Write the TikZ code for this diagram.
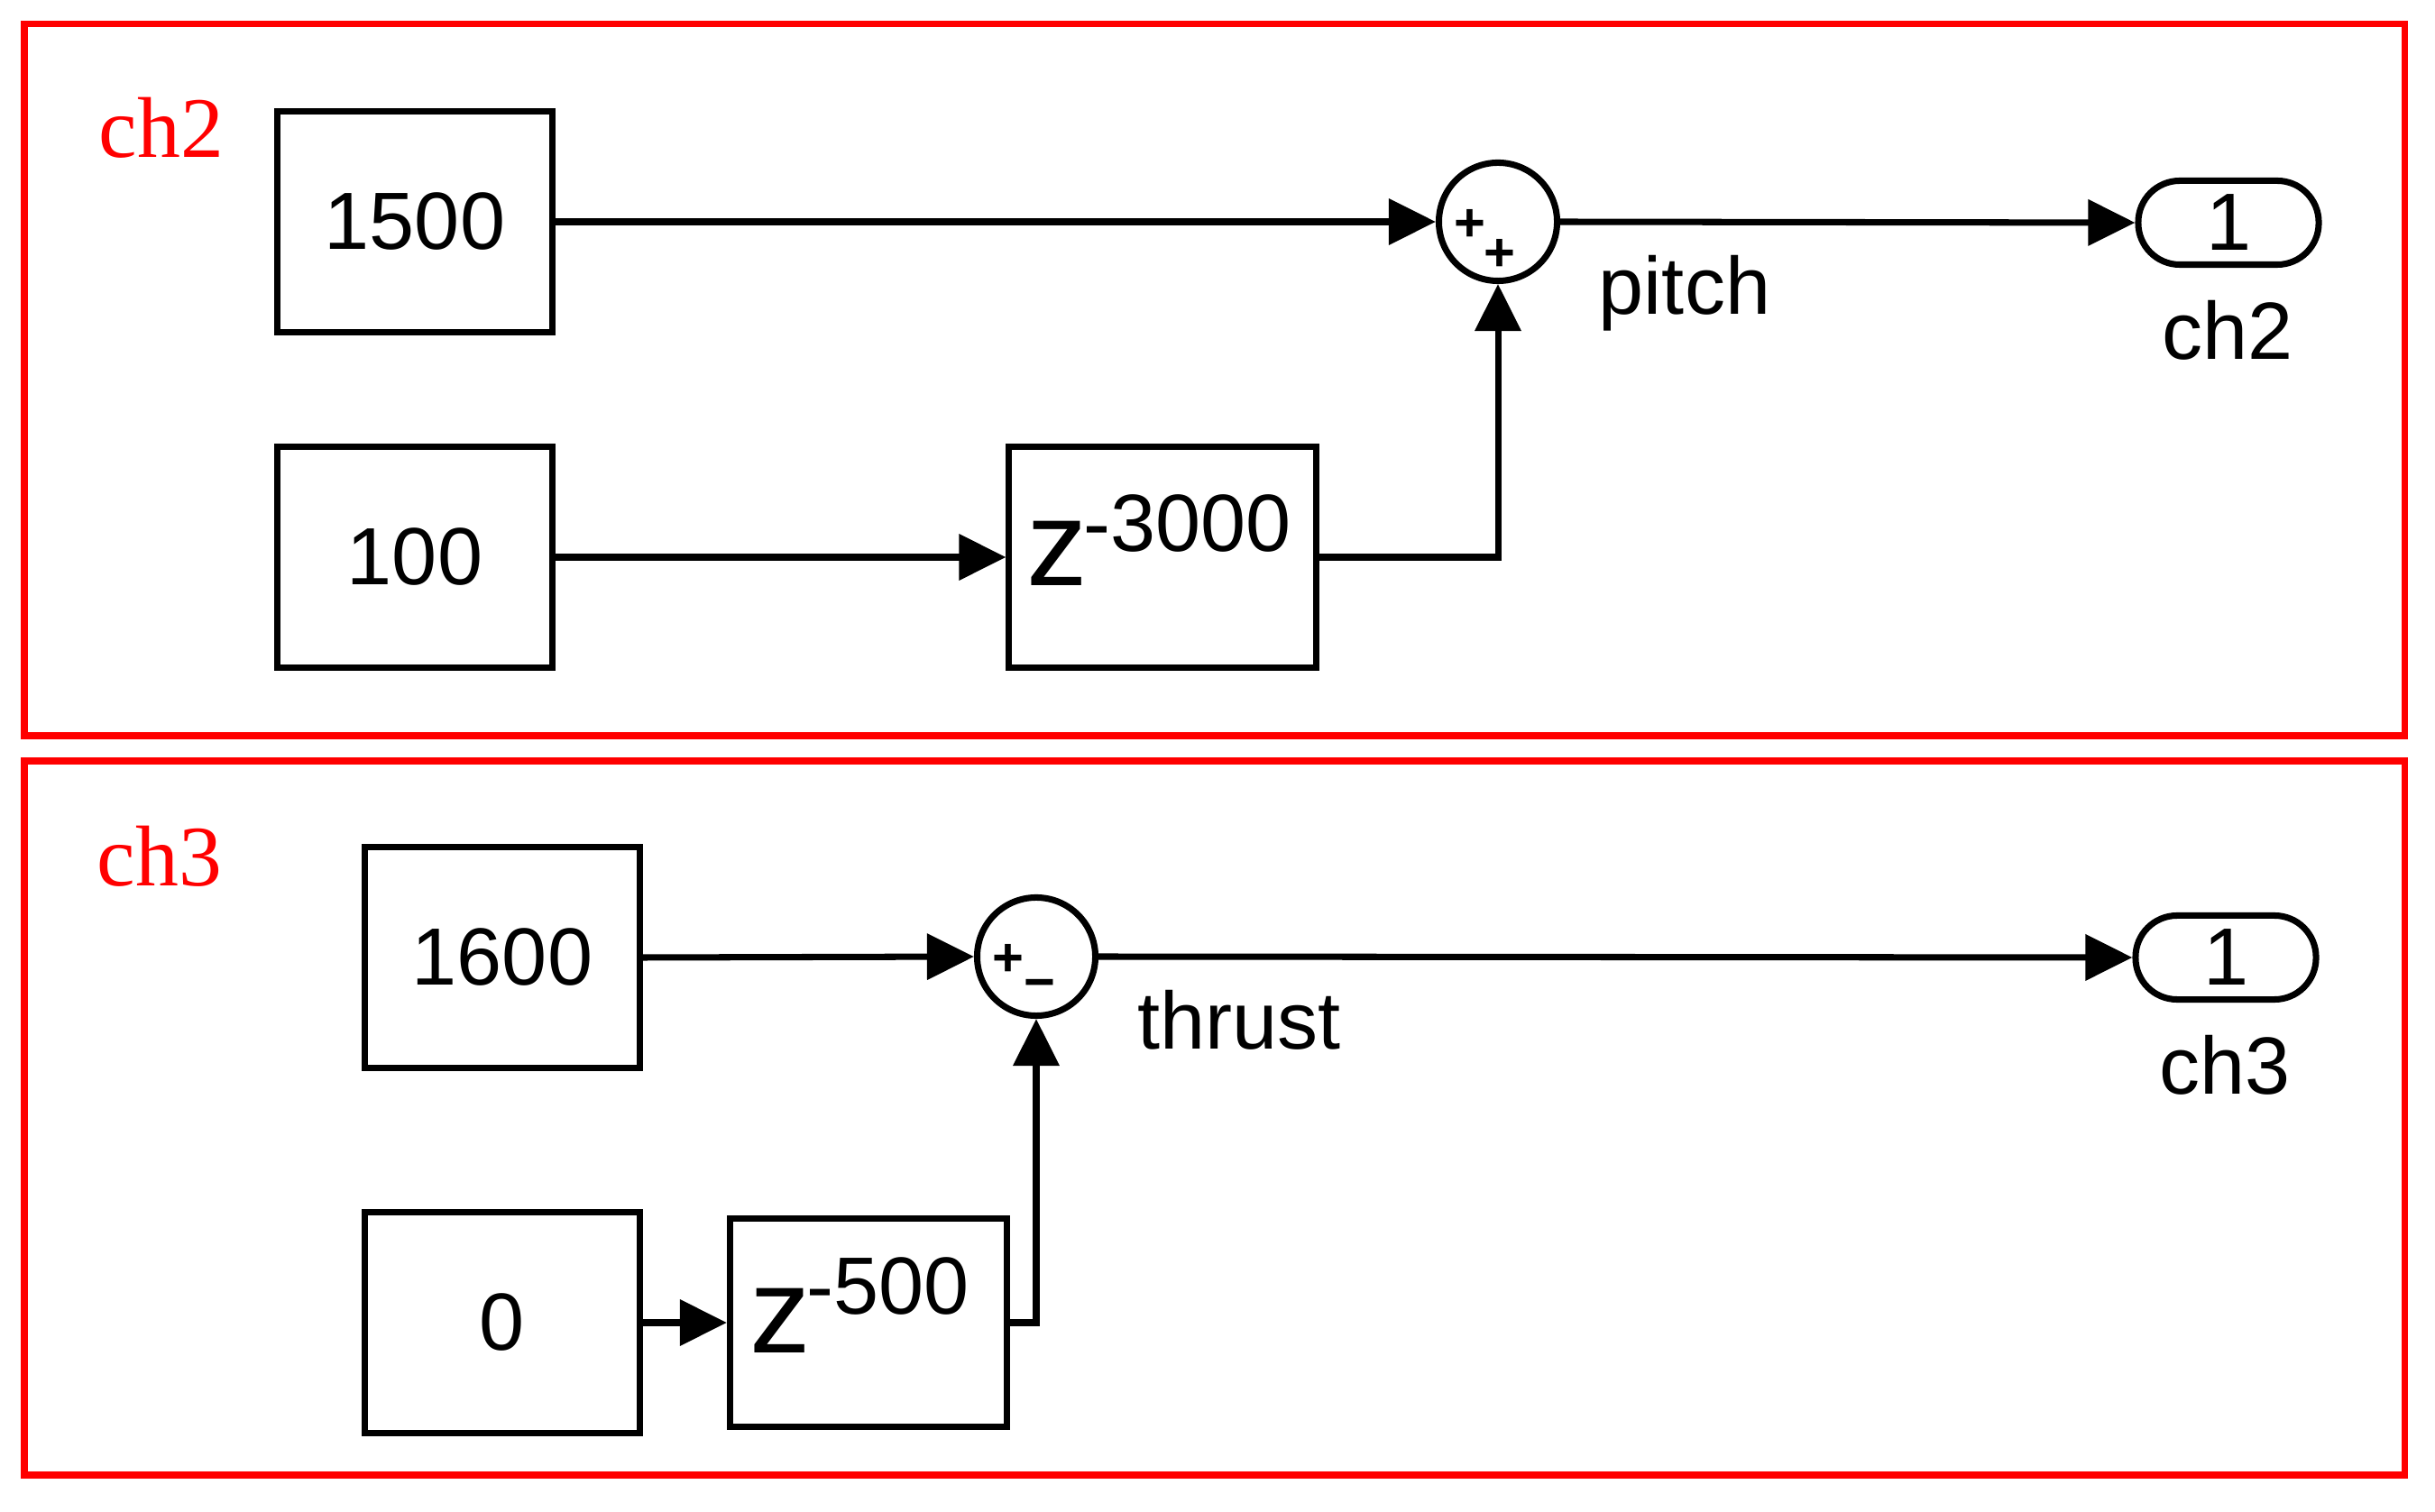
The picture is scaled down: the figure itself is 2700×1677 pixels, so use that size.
\documentclass[tikz,border=0pt]{standalone}
\usepackage{fontspec}
\setmainfont{Liberation Sans}
\newfontfamily\serifred{Liberation Serif}
\usetikzlibrary{arrows.meta}
\begin{document}
\begin{tikzpicture}[x=0.01cm,y=-0.01cm,
  blk/.style={draw,line width=2pt,inner sep=0pt,font=\fontsize{25.6}{30}\selectfont},
  sumc/.style={draw,circle,line width=2pt,minimum size=1.31cm,inner sep=0pt},
  port/.style={draw,line width=2pt,rounded corners=0.46cm,minimum width=2.0cm,minimum height=0.93cm,inner sep=0pt,font=\fontsize{25.6}{30}\selectfont},
  lbl/.style={font=\fontsize{25.6}{30}\selectfont,inner sep=0pt,anchor=base},
  frame/.style={draw=red,line width=2pt},
  ttl/.style={text=red,font=\serifred\fontsize{27.2}{30}\selectfont,inner sep=0pt,anchor=base},
  sig/.style={line width=2pt,-{Triangle[length=0.52cm,width=0.5cm]}},
  sgn/.style={font=\bfseries\fontsize{17}{19}\selectfont,inner sep=0pt},
  ztxt/.style={inner sep=0pt,anchor=base west}
]
\useasboundingbox (0,0) rectangle (2700,1677);
% frames
\draw[frame] (27,27) rectangle (2666,816);
\draw[frame] (27,844) rectangle (2666,1636);
\node[ttl] (t2) at (179,175) {ch2};
\node[ttl] (t3) at (177,983) {ch3};

% ---- ch2 ----
\node[blk,minimum width=3.05cm,minimum height=2.44cm] (c1500) at (460,246) {1500};
\node[blk,minimum width=3.05cm,minimum height=2.44cm] (c100) at (460,618) {100};
\node[blk,minimum width=3.40cm,minimum height=2.44cm] (d1) at (1289,618) {};
\node[ztxt] (d1t) at (1138,650) {\fontsize{38.4}{40}\selectfont z\kern-0.05cm\raisebox{0.38cm}{\fontsize{25.6}{30}\selectfont -3000}};
\node[sumc] (s1) at (1661,246) {};
\node[sgn] (s1a) at (1630,250) {+};
\node[sgn] (s1b) at (1663,283) {+};
\node[port] (o1) at (2471,247) {1};
\node[lbl] (pitch) at (1868,349) {pitch};
\node[lbl] (o1l) at (2470,399) {ch2};

\draw[sig] (c1500.east) -- (s1.west);
\draw[sig] (c100.east) -- (d1.west);
\draw[sig] (d1.east) -| (s1.south);
\draw[sig] (s1.east) -- (o1.west);

% ---- ch3 ----
\node[blk,minimum width=3.04cm,minimum height=2.45cm] (c1600) at (557,1062) {1600};
\node[blk,minimum width=3.04cm,minimum height=2.44cm] (c0) at (557,1467) {0};
\node[blk,minimum width=3.07cm,minimum height=2.30cm] (d2) at (963,1467) {};
\node[ztxt] (d2t) at (831,1500) {\fontsize{38.4}{40}\selectfont z\kern-0.05cm\raisebox{0.42cm}{\fontsize{25.6}{30}\selectfont -500}};
\node[sumc] (s2) at (1149,1061) {};
\node[sgn] (s2a) at (1118,1065) {+};
\node[sgn] (s2b) at (1153,1098) {−};
\node[port] (o2) at (2468,1062) {1};
\node[lbl] (thrust) at (1374,1163) {thrust};
\node[lbl] (o2l) at (2467,1214) {ch3};

\draw[sig] (c1600.east) -- (s2.west);
\draw[sig] (c0.east) -- (d2.west);
\draw[sig] (d2.east) -| (s2.south);
\draw[sig] (s2.east) -- (o2.west);
\end{tikzpicture}
\end{document}
